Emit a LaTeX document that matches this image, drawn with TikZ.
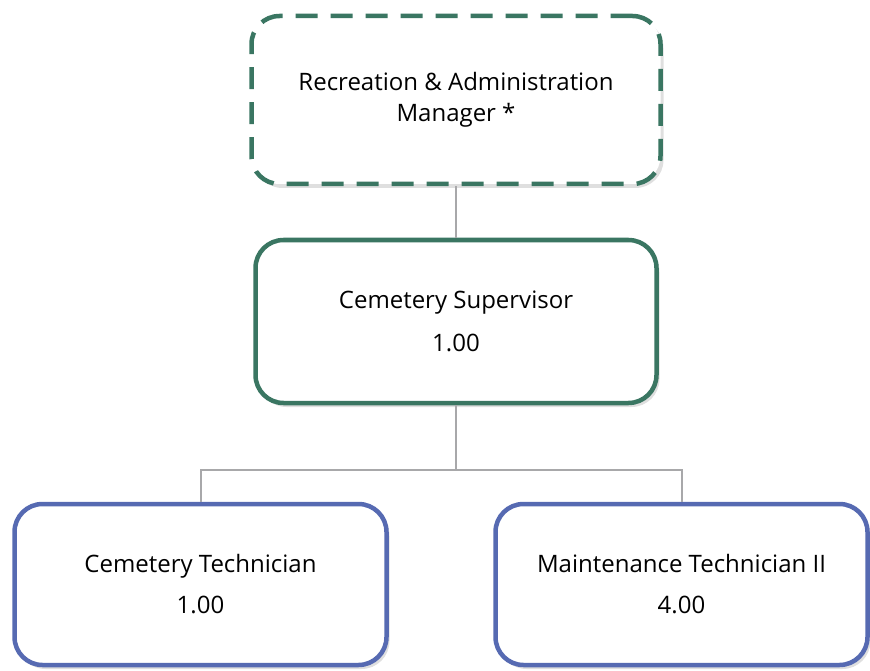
\documentclass[tikz,border=0pt]{standalone}
\usepackage{fontspec}
\setmainfont{Open Sans}
\usetikzlibrary{shadows}
\definecolor{orggreen}{RGB}{58,118,98}
\definecolor{orgblue}{RGB}{86,106,178}
\definecolor{orggray}{RGB}{168,168,170}
\begin{document}
\begin{tikzpicture}[
            x = 1pt, y = -1pt,
            every node/.style = {rectangle, fill=white, inner sep=0pt, align=center,
                font=\fontsize{24}{31}\selectfont,
                drop shadow={shadow xshift=3pt, shadow yshift=-4pt, opacity=0.25}},
            box/.style = {line width=4.5pt, rounded corners=28pt},
            mgrbox/.style = {box, draw=orggreen, dash pattern=on 22pt off 13pt,
                minimum width=409pt, minimum height=168pt},
            supbox/.style = {box, draw=orggreen, minimum width=401pt, minimum height=163pt},
            techbox/.style = {box, draw=orgblue, minimum width=372pt, minimum height=161pt},
            link/.style = {draw=orggray, line width=2pt}]
            \useasboundingbox (0,0) rectangle (870,671);
            \coordinate (bus) at (456,470);
            \node[mgrbox] (mgr) at (456,100) {Recreation \& Administration\\Manager *};
            \node[supbox] (sup) at (456,321.5) {Cemetery Supervisor\\[12pt]1.00};
            \node[techbox] (ctech) at (200.5,584.5) {Cemetery Technician\\[10pt]1.00};
            \node[techbox] (mtech) at (681.5,584.5) {Maintenance Technician II\\[10pt]4.00};
            % connectors
            \draw[link] (mgr.south) -- (sup.north);
            \draw[link] (sup.south) -- (bus) -| (ctech.north);
            \draw[link] (bus) -| (mtech.north);
        \end{tikzpicture}
\end{document}
